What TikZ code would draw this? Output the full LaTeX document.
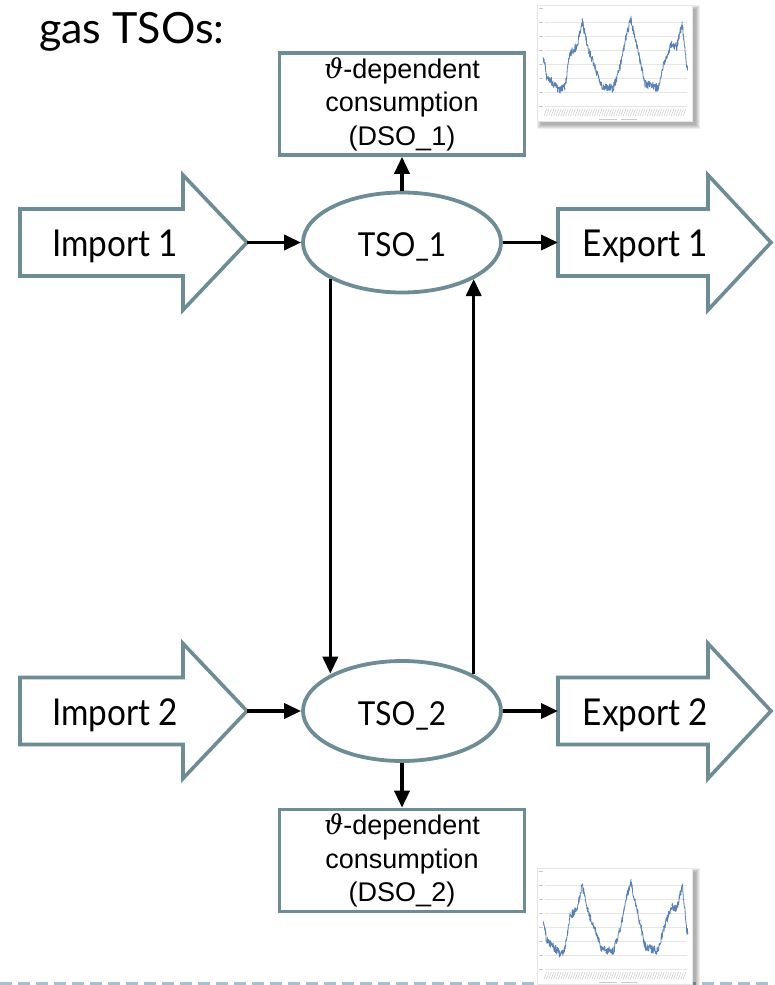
\documentclass[tikz,border=0pt]{standalone}
\usepackage{fontspec}
\setmainfont{Liberation Sans}
\newfontfamily\gillfont[FakeStretch=0.9]{Lato}
\newfontfamily\headfont{Lato}
\newfontfamily\thetafont{DejaVu Serif}
\usetikzlibrary{arrows.meta,shapes.geometric}

\definecolor{shapeedge}{HTML}{6E8C96}
\definecolor{dashblue}{HTML}{A8C0D2}
\definecolor{plotblue}{HTML}{5A80B6}
\definecolor{gridgray}{HTML}{E6E6E6}

\newcommand{\thetasym}{{\thetafont\itshape ϑ}}

\tikzset{
  edgeline/.style={draw=shapeedge, line width=3.6pt},
  bigarrow/.style={edgeline, fill=white, line join=miter},
  arrowtext/.style={font=\gillfont\fontsize{37}{44}\selectfont, inner sep=0pt},
  tsonode/.style={ellipse, edgeline, line width=3.8pt, fill=white,
    minimum width=198pt, minimum height=100pt, inner sep=0pt,
    text height=32pt, text depth=4pt,
    font=\gillfont\fontsize{33}{40}\selectfont},
  dsobox/.style={rectangle, edgeline, fill=white,
    minimum width=245pt, minimum height=102pt, text width=240pt,
    align=center, inner xsep=2.5pt, inner ysep=0pt,
    font=\fontsize{27}{33.5}\selectfont},
  flow/.style={line width=3.6pt, -{Triangle[length=17pt,width=15pt]}},
  % small load-curve thumbnail, local origin at its top left corner
  chartthumb/.pic={
    \foreach \e in {0,1,2,3,4}
      \fill[black, opacity=0.07] (4-\e,9-\e) rectangle (159+\e,125+\e);
    \fill[white] (0,5) rectangle (155,121);
    \draw[gray!20, line width=0.5pt] (0,5) rectangle (155,121);
    \foreach \gy in {22,36,50,64,78,92,106}
      \draw[gridgray, line width=0.6pt] (8,\gy) -- (150,\gy);
    \foreach \gy in {8,22,36,50,64,78,92,106}
      \draw[gray!45, line width=0.8pt] (2,\gy) -- (5.5,\gy);
    \foreach \i in {0,...,58}
      \draw[gray!40, line width=0.5pt] (7+\i*2.4,116) -- ++(2.6,-7);
    \draw[gray!40, line width=0.7pt] (62,119) -- (80,119) (84,119) -- (100,119);
    % three winters of daily demand with day-to-day scatter
    \foreach \xa/\ya/\xb/\yb in {
        6.3/56.7/9.7/76.7, 9.7/76.7/14.7/81.7, 14.7/81.7/23/91, 23/91/28/86.7,
        28/86.7/33/53.3, 33/53.3/39.7/46.7, 39.7/46.7/45.3/21.7, 45.3/21.7/51.3/50,
        51.3/50/58/66.7, 58/66.7/64.7/86.7, 64.7/86.7/76.3/88.3, 76.3/88.3/83/66.7,
        83/66.7/89.7/33.3, 89.7/33.3/94/20, 94/20/103/60, 103/60/108/83.3,
        108/83.3/121.3/88.3, 121.3/88.3/126.3/66.7, 126.3/66.7/134.7/43.3,
        134.7/43.3/139.7/46.7, 139.7/46.7/145.3/23.3, 145.3/23.3/149.7/66.7,
        149.7/66.7/150.7/68.3} {
      \pgfmathtruncatemacro{\ns}{3.2*(\xb-\xa)+3}
      \draw[plotblue, line width=0.8pt, line join=round]
        plot[variable=\t, domain=\xa:\xb, samples=\ns]
          (\t, {\ya + (\yb-\ya)*(\t-\xa)/(\xb-\xa) + 4.2*rand});
    }
  }
}

\begin{document}
\begin{tikzpicture}[x=1pt, y=-1pt]
  \useasboundingbox (0,0) rectangle (774,985);

  % dashed footer rule
  \draw[dashblue, line width=3pt, dash pattern=on 12pt off 6pt] (0,983) -- (774,983);

  % heading
  \node[font=\headfont\fontsize{43}{50}\selectfont, anchor=base west, inner sep=0pt]
    (title) at (39,43) {gas TSOs:};

  % the two TSO rows: import arrow, TSO ellipse, export arrow
  \foreach \r/\c in {1/242.5, 2/711} {
    \draw[bigarrow] (20,\c-33.5) -- (183,\c-33.5) -- (183,\c-67.5) -- (247,\c)
      -- (183,\c+67.5) -- (183,\c+33.5) -- (20,\c+33.5) -- cycle;
    \draw[bigarrow] (558,\c-33.5) -- (708,\c-33.5) -- (708,\c-67.5) -- (771,\c)
      -- (708,\c+67.5) -- (708,\c+33.5) -- (558,\c+33.5) -- cycle;
    \node[arrowtext, anchor=base] (import\r) at (115,\c+14.2) {Import \r};
    \node[arrowtext, anchor=base] (export\r) at (645.5,\c+14.2) {Export \r};
    \coordinate (importtip\r) at (247,\c);
    \coordinate (exporttail\r) at (558,\c);
    \node[tsonode] (tso\r) at (402,\c) {TSO\_\r};
    \draw[flow] (importtip\r) -- (tso\r);
    \draw[flow] (tso\r) -- (exporttail\r);
  }

  % temperature dependent consumption boxes
  \node[dsobox] (dso1) at (402,104) {\thetasym-dependent\\consumption\\(DSO\_1)};
  \node[dsobox] (dso2) at (402,860.5) {\thetasym-dependent\\consumption\\(DSO\_2)};

  \draw[flow] (tso1.north) -- (dso1.south);
  \draw[flow] (tso2.south) -- (dso2.north);

  % exchange between the two TSOs
  \draw[flow] (tso1.207.5) -- (tso1.207.5 |- tso2.152.5);
  \draw[flow] (tso2.27.5) -- (tso2.27.5 |- tso1.-27.5);

  % load curve thumbnails
  \pic at (537,0) {chartthumb};
  \pic at (537,863) {chartthumb};
\end{tikzpicture}
\end{document}
